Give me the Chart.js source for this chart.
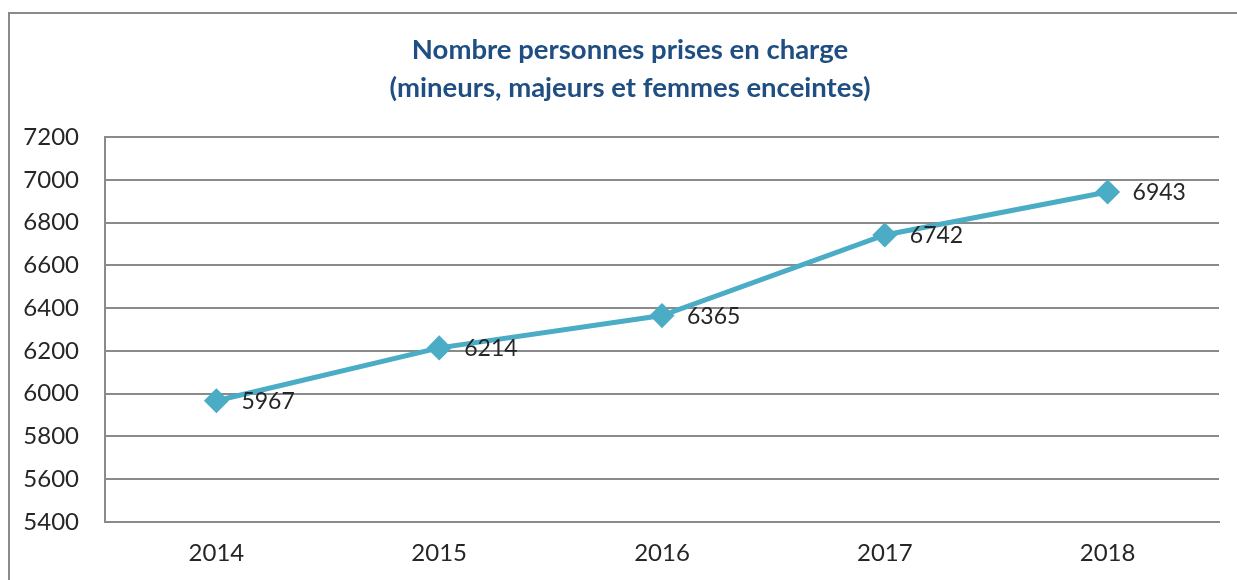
<!DOCTYPE html>
<html>
<head>
<meta charset="utf-8">
<script src="https://cdn.jsdelivr.net/npm/chart.js@4/dist/chart.umd.min.js"></script>
<style>
    html, body { margin: 0; padding: 0; background: #fff; overflow: hidden; }
    #frame {
        position: absolute;
        left: 8px;
        top: 12px;
        width: 1400px;
        height: 700px;
        border: 2px solid #8a8a8a;
        box-sizing: border-box;
    }
    #wrap {
        position: absolute;
        left: 8px;
        top: 12px;
        width: 1229px;
        height: 568px;
    }
</style>
</head>
<body>
<div id="frame"></div>
<div id="wrap"><canvas id="chart"></canvas></div>
<script>
const YEARS = ['2014', '2015', '2016', '2017', '2018'];
const PERSONNES = [5967, 6214, 6365, 6742, 6943];
const TITLE_LINES = ['Nombre personnes prises en charge', '(mineurs, majeurs et femmes enceintes)'];

const FONT = 'Lato, "Open Sans", sans-serif';

// labels written just to the right of each point
const pointLabels = {
    id: 'pointLabels',
    afterDatasetsDraw(chart) {
        const ctx = chart.ctx;
        const meta = chart.getDatasetMeta(0);
        ctx.save();
        ctx.font = '23px ' + FONT;
        ctx.fillStyle = '#262626';
        ctx.textAlign = 'left';
        ctx.textBaseline = 'middle';
        meta.data.forEach((pt, i) => {
            ctx.fillText(String(PERSONNES[i]), pt.x + 25, pt.y + 1);
        });
        ctx.restore();
    }
};

// title is centred a bit right of the canvas middle, so it is drawn here
const titleLines = {
    id: 'titleLines',
    afterDraw(chart) {
        const ctx = chart.ctx;
        ctx.save();
        ctx.font = 'bold 27.5px ' + FONT;
        ctx.fillStyle = '#1f4e82';
        ctx.textAlign = 'center';
        ctx.textBaseline = 'middle';
        TITLE_LINES.forEach((line, i) => {
            ctx.fillText(line, 622, 38 + i * 38);
        });
        ctx.restore();
    }
};

new Chart(document.getElementById('chart'), {
    type: 'line',
    data: {
        labels: YEARS,
        datasets: [{
            data: PERSONNES,
            borderColor: '#4bacc6',
            backgroundColor: '#4bacc6',
            borderWidth: 5,
            pointStyle: 'rectRot',
            pointRadius: 9,
            pointHoverRadius: 9,
            tension: 0,
        }]
    },
    plugins: [pointLabels, titleLines],
    options: {
        responsive: true,
        maintainAspectRatio: false,
        animation: false,
        layout: { padding: { right: 18, bottom: 0, left: 0, top: 125 } },
        plugins: {
            legend: { display: false },
            tooltip: { enabled: false },
            title: { display: false },
        },
        scales: {
            x: {
                offset: true,
                grid: { display: false, drawTicks: false },
                border: { display: true, color: '#8a8a8a', width: 2 },
                ticks: { color: '#262626', font: { family: FONT, size: 24 }, padding: 17 },
                afterFit: s => { s.height = 58; },
            },
            y: {
                min: 5400,
                max: 7200,
                grid: { color: '#8a8a8a', lineWidth: 2, drawTicks: false },
                border: { display: true, color: '#8a8a8a', width: 2 },
                ticks: {
                    stepSize: 200,
                    color: '#262626',
                    font: { family: FONT, size: 24 },
                    padding: 26,
                    callback: v => String(v),
                },
                afterFit: s => { s.width = 97; },
            },
        },
    },
});
</script>
</body>
</html>
